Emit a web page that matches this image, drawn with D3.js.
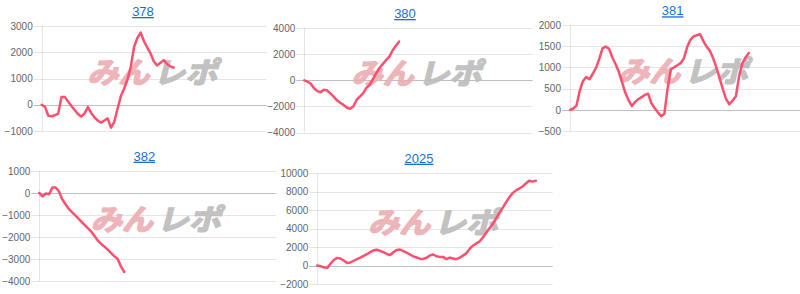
<!DOCTYPE html>
<html><head><meta charset="utf-8">
<script src="https://cdnjs.cloudflare.com/ajax/libs/d3/7.8.5/d3.min.js"></script>
<style>
html,body{margin:0;padding:0;background:#fff;}
svg{display:block;}
</style></head>
<body>
<svg id="c" width="800" height="294"></svg>
<script>
// ---- data ----
const titles = ["378", "380", "381", "382", "2025"];
const ticks378 = [3000, 2000, 1000, 0, -1000];
const ticks380 = [4000, 2000, 0, -2000, -4000];
const ticks381 = [2000, 1500, 1000, 500, 0, -500];
const ticks382 = [1000, 0, -1000, -2000, -3000, -4000];
const ticks2025 = [10000, 8000, 6000, 4000, 2000, 0, -2000];

const values378 = [0, -80, -420, -440, -400, -340, 300, 300, 120, -50, -200, -350, -450, -330, -90, -310, -480, -600, -680, -600, -520, -870, -650, -150, 330, 620, 950, 1450, 2200, 2550, 2750, 2420, 2180, 1950, 1650, 1500, 1600, 1700, 1550, 1460, 1420];
const values380 = [0, -100, -250, -600, -820, -900, -720, -780, -1000, -1250, -1530, -1720, -1880, -2080, -2180, -2000, -1500, -1250, -1000, -570, -350, 100, 550, 950, 1250, 1550, 1800, 2300, 2650, 2980];
const values381 = [0, 30, 100, 450, 680, 770, 720, 850, 990, 1200, 1450, 1490, 1440, 1240, 1080, 900, 650, 400, 230, 90, 180, 250, 300, 350, 380, 160, 40, -60, -150, -100, 500, 960, 1000, 1050, 1100, 1210, 1480, 1650, 1730, 1760, 1780, 1620, 1490, 1390, 1220, 1000, 740, 480, 250, 130, 220, 320, 800, 1100, 1240, 1340];
const values382 = [0, -150, -20, -60, 250, 250, 80, -280, -500, -720, -870, -1020, -1170, -1320, -1470, -1620, -1770, -1980, -2180, -2320, -2450, -2580, -2730, -2880, -3000, -3350, -3590];
const values2025 = [0, -80, -200, -250, 200, 600, 830, 760, 550, 280, 330, 520, 700, 850, 1050, 1230, 1450, 1650, 1720, 1580, 1450, 1250, 1150, 1450, 1700, 1740, 1560, 1400, 1200, 1000, 870, 750, 720, 850, 1100, 1200, 1010, 940, 940, 700, 860, 760, 690, 850, 1080, 1320, 1800, 2150, 2400, 2600, 3050, 3550, 4050, 4500, 5100, 5750, 6250, 6850, 7400, 7850, 8150, 8350, 8570, 8900, 9200, 9100, 9200];

const seriesList = [values378, values380, values381, values382, values2025];
const tickList = [ticks378, ticks380, ticks381, ticks382, ticks2025];

// ---- layout (positions only) ----
const layout = [
  {axisX: 41.7, rightX: 266.7, topY: 26, bottomY: 131, titleX: 143, titleY: 16, slots: 68.2},
  {axisX: 304.3, rightX: 532.7, topY: 28.3, bottomY: 132.5, titleX: 405, titleY: 18, slots: 69.9},
  {axisX: 570, rightX: 800, topY: 25, bottomY: 131, titleX: 672.7, titleY: 15.3, slots: 70.7},
  {axisX: 39.3, rightX: 276, topY: 171, bottomY: 281, titleX: 144.3, titleY: 160.7, slots: 72.4},
  {axisX: 317.3, rightX: 552.7, topY: 173.3, bottomY: 284, titleX: 419, titleY: 162.7, slots: 71.1}
];

const svg = d3.select("#c");
const LINE = "#ff4f6e";

titles.forEach((t, k) => {
  const L = layout[k];
  const ticks = tickList[k];
  const vals = seriesList[k];
  const y = d3.scaleLinear().domain([d3.min(ticks), d3.max(ticks)]).range([L.bottomY, L.topY]);
  const x = d3.scaleLinear().domain([0, L.slots]).range([L.axisX, L.rightX]);
  const g = svg.append("g");

  // gridlines + tick marks
  g.selectAll("line.grid").data(ticks).enter().append("line")
    .attr("x1", L.axisX - 8).attr("x2", L.rightX)
    .attr("y1", d => Math.round(y(d)) + 0.5).attr("y2", d => Math.round(y(d)) + 0.5)
    .attr("stroke", d => d === 0 ? "rgba(0,0,0,0.25)" : "rgba(0,0,0,0.1)")
    .attr("stroke-width", 1);

  // y axis line
  g.append("line")
    .attr("x1", Math.round(L.axisX) + 0.5).attr("x2", Math.round(L.axisX) + 0.5)
    .attr("y1", y.range()[1]).attr("y2", y.range()[0])
    .attr("stroke", "rgba(0,0,0,0.1)");

  // labels via d3 axis
  const ax = g.append("g").attr("transform", `translate(${L.axisX},0)`)
    .call(d3.axisLeft(y).tickValues(ticks).tickSize(0).tickPadding(9).tickFormat(d3.format("d")));
  ax.select(".domain").remove();
  ax.selectAll("text").attr("fill", "#666").attr("font-size", "10px")
    .attr("font-family", "'Liberation Sans', Arial, sans-serif");

  // watermark
  const cx = (L.axisX + L.rightX) / 2;
  const cy = (L.topY + L.bottomY) / 2 - 7;
  const wm = g.append("g").attr("transform", `translate(${cx},${cy}) skewX(-14)`).attr("opacity", 0.9);
  wm.append("text").text("みん")
    .attr("x", -64).attr("y", 11)
    .attr("textLength", 62).attr("lengthAdjust", "spacingAndGlyphs")
    .attr("font-family", "'Noto Sans CJK JP', sans-serif").attr("font-weight", "bold")
    .attr("font-size", "29px").attr("fill", "#ecaeb2")
    .attr("stroke", "#ecaeb2").attr("stroke-width", 1.6).attr("stroke-linejoin", "round");
  wm.append("text").text("レポ")
    .attr("x", 2).attr("y", 11)
    .attr("textLength", 64).attr("lengthAdjust", "spacingAndGlyphs")
    .attr("font-family", "'Noto Sans CJK JP', sans-serif").attr("font-weight", "bold")
    .attr("font-size", "29px").attr("fill", "#bcbcbc")
    .attr("stroke", "#bcbcbc").attr("stroke-width", 1.6).attr("stroke-linejoin", "round");

  // line
  const line = d3.line().x((d, i) => x(i)).y(d => y(d));
  g.append("path").datum(vals)
    .attr("d", line).attr("fill", "none")
    .attr("stroke", LINE).attr("stroke-width", 2.5)
    .attr("stroke-linejoin", "round").attr("stroke-linecap", "round");

  // title
  g.append("text").text(t)
    .attr("x", L.titleX).attr("y", L.titleY)
    .attr("text-anchor", "middle")
    .attr("font-family", "'Liberation Sans', Arial, sans-serif")
    .attr("font-size", "13px").attr("fill", "#1a6fce")
    .attr("text-decoration", "underline");
});
</script>
</body></html>
